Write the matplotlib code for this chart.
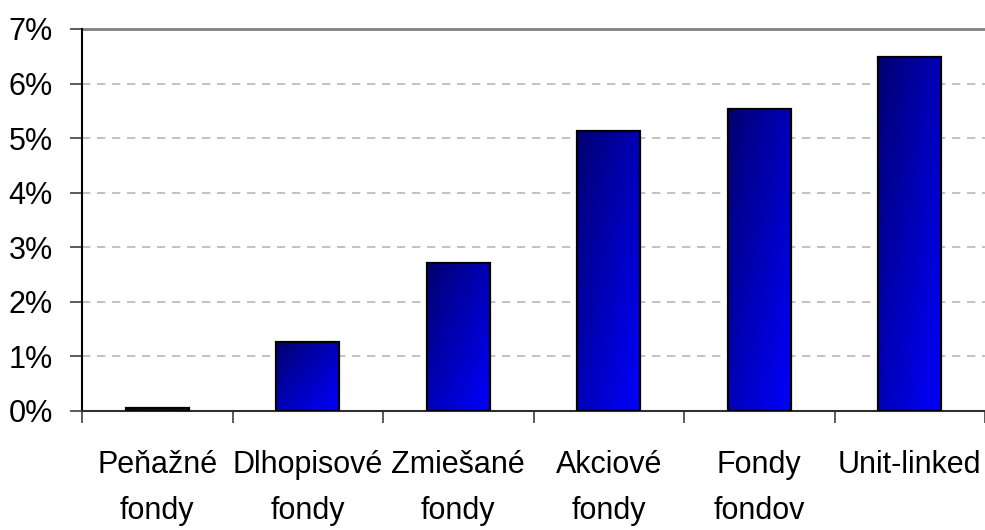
import numpy as np
import matplotlib
matplotlib.use("Agg")
import matplotlib.pyplot as plt
from matplotlib.colors import LinearSegmentedColormap
from matplotlib.ticker import FuncFormatter, FixedLocator

# values (percent)
categories = ["Peňažné\nfondy", "Dlhopisové\nfondy", "Zmiešané\nfondy",
              "Akciové\nfondy", "Fondy\nfondov", "Unit-linked"]
returns_pct = [0.05, 1.27, 2.71, 5.13, 5.54, 6.49]
y_ticks = [0, 1, 2, 3, 4, 5, 6, 7]

plt.rcParams["font.family"] = ["Liberation Sans", "DejaVu Sans"]
label_size = 22

fig = plt.figure(figsize=(9.85, 5.30), dpi=100)
ax = fig.add_axes([82 / 985, 1 - 411 / 530, 1 - 82 / 985, (411 - 29) / 530])

x = np.arange(len(categories)) + 0.5
bars = ax.bar(x, returns_pct, width=0.42, facecolor="none",
              edgecolor="black", linewidth=1.6, zorder=3)

# diagonal gradient: dark navy top-left to bright blue bottom-right
cmap = LinearSegmentedColormap.from_list("navy_blue", ["#000070", "#0000ff"])
u, v = np.meshgrid(np.linspace(0, 1, 64), np.linspace(0, 1, 256))
grad = (u + v) / 2  # row 0 at top when origin='upper'
for rect in bars:
    x0 = rect.get_x()
    w = rect.get_width()
    h = rect.get_height()
    img = ax.imshow(grad, cmap=cmap, vmin=0, vmax=1, aspect="auto",
                    extent=(x0, x0 + w, 0, h), origin="upper",
                    interpolation="bilinear", zorder=2)
    img.set_clip_path(rect)

ax.set_xlim(0, len(categories))
ax.set_ylim(0, 7)

ax.yaxis.set_major_locator(FixedLocator(y_ticks))
ax.yaxis.set_major_formatter(FuncFormatter(lambda val, pos: f"{val:.0f}%"))
ax.set_xticks(np.arange(len(categories) + 1))
ax.set_xticklabels([])
ax.set_xticks(x, minor=True)
ax.set_xticklabels(categories, minor=True)

ax.tick_params(axis="x", which="major", direction="out", length=8.5,
               width=1.2, color="#404040")
ax.tick_params(axis="x", which="minor", length=0, pad=28, labelsize=label_size)
ax.tick_params(axis="y", direction="out", length=8.5, width=1.2,
               color="#404040", labelsize=label_size, pad=12.5)
for lbl in ax.get_xticklabels(minor=True):
    lbl.set_linespacing(1.7)
    lbl.set_verticalalignment("top")

for yv in y_ticks[1:-1]:
    ax.axhline(yv, color="#b8b8b8", linestyle=(0, (5, 4)), linewidth=1.2, zorder=1)
ax.axhline(7, color="#808080", linewidth=2, zorder=1, clip_on=False)

for side in ("top", "right"):
    ax.spines[side].set_visible(False)
ax.spines["left"].set_color("black")
ax.spines["left"].set_linewidth(1.5)
ax.spines["bottom"].set_color("#303030")
ax.spines["bottom"].set_linewidth(1.5)

fig.savefig("out.png", dpi=100)
